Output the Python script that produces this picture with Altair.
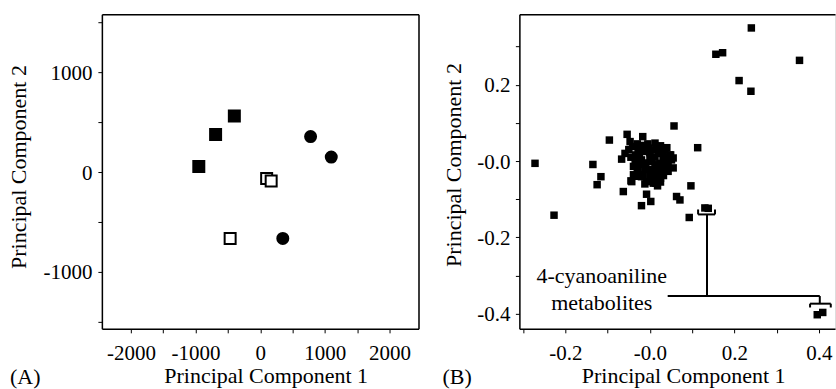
import altair as alt
import pandas as pd

FONT = "Liberation Serif, 'Times New Roman', Times, 'DejaVu Serif', serif"

# ---------------- Panel A data ----------------
a_group = ["filled square", "filled square", "filled square",
           "filled circle", "filled circle", "filled circle",
           "open square", "open square", "open square"]
a_pc1 = [-950, -690, -400, 780, 1100, 350, 100, 170, -465]
a_pc2 = [50, 370, 555, 350, 145, -670, -70, -95, -670]

a_xticks = [-2000, -1500, -1000, -500, 0, 500, 1000, 1500, 2000]
a_yticks = [-1500, -1000, -500, 0, 500, 1000, 1500]

# ---------------- Panel B data ----------------
b_pc1 = [0.240, 0.156, 0.172, 0.354, 0.211, 0.239,
         0.057, 0.113, -0.096, -0.272, -0.135, -0.116, -0.125, -0.227,
         -0.063, -0.045, -0.020, -0.008, 0.002, 0.063, 0.071, 0.097, 0.093,
         0.130, 0.138, 0.396, 0.409,
         -0.054, -0.017, -0.047, -0.041, -0.020, 0.012, -0.059, -0.034, -0.067,
         -0.008, 0.008, 0.047, 0.051, 0.031, -0.020, 0.004, 0.020, 0.043,
         -0.039, -0.012, 0.008, 0.043, -0.039, -0.016, 0.016, -0.043, -0.020,
         0.008, -0.008, 0.000, 0.020, -0.025, 0.030, -0.010, 0.015, 0.035,
         -0.030, 0.025, 0.040, -0.004, 0.022, 0.049, -0.031, 0.024, 0.004, 0.014,
         -0.030, -0.005, 0.025, 0.040, -0.050, -0.028, -0.012, 0.000, 0.030,
         -0.045, -0.025, 0.012, 0.038, 0.055, -0.035, -0.022, 0.012, 0.033, 0.055,
         -0.028, -0.002, 0.022, 0.032, -0.030, 0.000, 0.025, -0.012, 0.018]
b_pc2 = [0.349, 0.280, 0.284, 0.264, 0.211, 0.183,
         0.092, 0.035, 0.055, -0.006, -0.009, -0.041, -0.062, -0.142,
         -0.080, -0.052, -0.117, -0.087, -0.106, -0.093, -0.102, -0.065, -0.148,
         -0.123, -0.124, -0.403, -0.397,
         0.070, 0.064, 0.051, 0.038, 0.041, 0.047, 0.020, 0.016, 0.005,
         0.025, 0.029, 0.016, 0.003, 0.007, 0.003, -0.001, -0.010, -0.010,
         -0.014, -0.019, -0.023, -0.027, -0.036, -0.036, -0.041, -0.054, -0.041,
         -0.058, -0.054, 0.010, 0.020, 0.025, -0.020, -0.005, 0.035, 0.030,
         -0.025, -0.045, 0.010, 0.034, 0.025, 0.016, 0.012, -0.006, -0.049, -0.058,
         0.045, 0.045, 0.040, 0.035, 0.030, 0.032, 0.030, 0.022, 0.022,
         0.010, 0.012, 0.010, 0.005, 0.008, -0.005, -0.008, -0.010, -0.012, -0.018,
         -0.022, -0.022, -0.025, -0.038, -0.040, -0.040, -0.055, -0.060, -0.065]

b_xticks = [-0.3, -0.2, -0.1, 0.0, 0.1, 0.2, 0.3, 0.4]
b_yticks = [-0.4, -0.3, -0.2, -0.1, 0.0, 0.1, 0.2, 0.3]

# bracket annotation segments (data units)
seg_x1 = [0.114, 0.114, 0.154, 0.135, 0.042, 0.402, 0.379, 0.379, 0.428]
seg_y1 = [-0.140, -0.127, -0.127, -0.140, -0.354, -0.354, -0.374, -0.374, -0.374]
seg_x2 = [0.154, 0.114, 0.154, 0.135, 0.402, 0.402, 0.428, 0.379, 0.428]
seg_y2 = [-0.140, -0.140, -0.140, -0.354, -0.354, -0.374, -0.374, -0.384, -0.384]

note_text = ["4-cyanoaniline", "metabolites"]
note_x = [-0.114, -0.114]
note_y = [-0.321, -0.391]

# ---------------- common styling ----------------
def axis_style(**kw):
    base = dict(
        grid=False, domainColor="black", domainWidth=1.5, tickColor="black",
        tickWidth=1, tickSize=4, labelFont=FONT, labelFontSize=21,
        labelColor="black", labelFlush=False, labelOverlap=False,
        titleFont=FONT, titleFontSize=22, titleFontWeight="normal",
        titleColor="black", titleAlign="center", titleBaseline="alphabetic",
    )
    base.update(kw)
    return alt.Axis(**base)

frame_axis = dict(grid=False, domainColor="black", domainWidth=1.5,
                  labels=False, ticks=False, title=None)

# ---------------- Panel A ----------------
a_df = pd.DataFrame({"group": a_group, "pc1": a_pc1, "pc2": a_pc2})
ax_scale = alt.Scale(domain=[-2450, 2450], nice=False, zero=False)
ay_scale = alt.Scale(domain=[-1575, 1575], nice=False, zero=False)
a_lab = "datum.value % 1000 == 0 ? '' + datum.value : ''"

a_points = alt.Chart(a_df).mark_point(
    filled=True, stroke="black", strokeWidth=2, opacity=1, size=121
).encode(
    x=alt.X("pc1:Q", scale=ax_scale, axis=axis_style(
        values=a_xticks, labelExpr=a_lab, labelBaseline="alphabetic",
        labelPadding=27, title="Principal Component 1", titleX=164, titleY=54)),
    y=alt.Y("pc2:Q", scale=ay_scale, axis=axis_style(
        values=a_yticks, labelExpr=a_lab, labelBaseline="middle",
        labelPadding=6, labelOffset=1.5, title="Principal Component 2",
        titleX=-76, titleY=152.5)),
    shape=alt.Shape("group:N", legend=None, scale=alt.Scale(
        domain=["filled square", "filled circle", "open square"],
        range=["square", "circle", "square"])),
    fill=alt.Fill("group:N", legend=None, scale=alt.Scale(
        domain=["filled square", "filled circle", "open square"],
        range=["black", "black", "white"])),
)
a_frame = alt.Chart(a_df).mark_point(opacity=0).encode(
    x=alt.X("pc1:Q", scale=ax_scale, axis=alt.Axis(orient="top", **frame_axis)),
    y=alt.Y("pc2:Q", scale=ay_scale, axis=alt.Axis(orient="right", **frame_axis)),
)
panel_a = alt.layer(a_points, a_frame).resolve_axis(
    x="independent", y="independent"
).properties(
    width=317, height=315,
    title=alt.TitleParams("(A)", orient="bottom", anchor="start", frame="group",
                          dx=-92, dy=-3, offset=0, font=FONT, fontSize=22,
                          fontWeight="normal", color="black", baseline="alphabetic"),
)

# ---------------- Panel B ----------------
b_df = pd.DataFrame({"pc1": b_pc1, "pc2": b_pc2})
seg_df = pd.DataFrame({"x1": seg_x1, "y1": seg_y1, "x2": seg_x2, "y2": seg_y2})
note_df = pd.DataFrame({"text": note_text, "x": note_x, "y": note_y})
bx_scale = alt.Scale(domain=[-0.309, 0.438], nice=False, zero=False)
by_scale = alt.Scale(domain=[-0.44, 0.385], nice=False, zero=False)
b_lab = ("abs(round(datum.value*10)) % 2 == 0 ? "
         "(abs(datum.value) < 0.0001 ? '-0.0' : "
         "(datum.value < 0 ? '-' : '') + format(abs(datum.value), '.1f')) : ''")

b_points = alt.Chart(b_df).mark_square(color="black", opacity=1, size=56).encode(
    x=alt.X("pc1:Q", scale=bx_scale, axis=axis_style(
        values=b_xticks, labelExpr=b_lab, labelBaseline="alphabetic",
        labelPadding=27, title="Principal Component 1", titleX=164, titleY=54)),
    y=alt.Y("pc2:Q", scale=by_scale, axis=axis_style(
        values=b_yticks, labelExpr=b_lab, labelBaseline="middle",
        labelPadding=5.5, labelOffset=1, title="Principal Component 2",
        titleX=-59, titleY=150.5)),
)
b_segs = alt.Chart(seg_df).mark_rule(color="black", strokeWidth=2).encode(
    x=alt.X("x1:Q", scale=bx_scale, axis=alt.Axis(orient="top", **frame_axis)),
    y=alt.Y("y1:Q", scale=by_scale, axis=None),
    x2="x2:Q",
    y2="y2:Q",
)
b_note = alt.Chart(note_df).mark_text(
    font=FONT, fontSize=22, color="black", align="center", baseline="alphabetic"
).encode(
    x=alt.X("x:Q", scale=bx_scale, axis=None),
    y=alt.Y("y:Q", scale=by_scale, axis=None),
    text="text:N",
)
panel_b = alt.layer(b_points, b_segs, b_note).resolve_axis(
    x="independent", y="independent"
).properties(
    width=316, height=315,
    title=alt.TitleParams("(B)", orient="bottom", anchor="start", frame="group",
                          dx=-77, dy=-3, offset=0, font=FONT, fontSize=22,
                          fontWeight="normal", color="black", baseline="alphabetic"),
)

chart = alt.hconcat(panel_a, panel_b, spacing=101, bounds="flush").properties(
    padding={"left": 7, "top": 11, "right": 0, "bottom": 0}
).configure_view(stroke=None).configure(background="white")

chart.save("out.html", embed_options={"renderer": "svg", "actions": False})
